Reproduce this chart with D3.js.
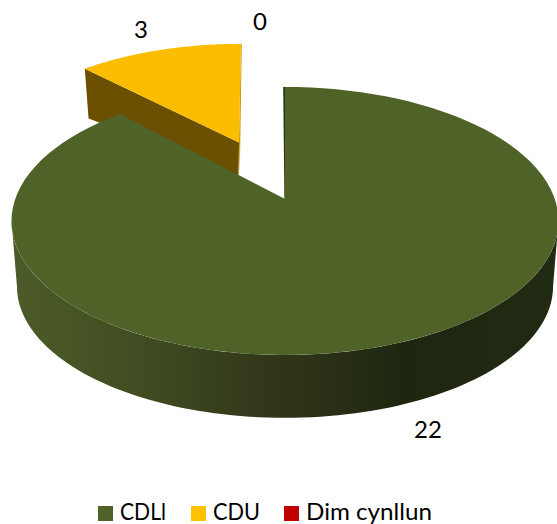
<!DOCTYPE html>
<html><head><meta charset="utf-8">
<script src="https://cdn.jsdelivr.net/npm/d3@7/dist/d3.min.js"></script>
<style>html,body{margin:0;background:#fff}svg{display:block}text{font-family:Lato,"Open Sans",sans-serif;fill:#000}</style>
</head><body><svg id="c" width="557" height="524"></svg>
<script>
const categories = ["CDLl", "CDU", "Dim cynllun"];
const values = [22, 3, 0];
const colors = ["#4f6228", "#fcbc00", "#c00000"];
const legendColors = ["#4f6228", "#ffc000", "#c00000"];

const svg = d3.select("#c");
const TAU = 2 * Math.PI;
const pie = d3.pie().sort(null)(values);

// perspective projection of a unit disc lying in a tilted plane
const proj = (cx, cy, rx, ry, k, shear = 0) => (a, r = 1) => {
  const u = r * Math.sin(a), v = r * Math.cos(a), s = 1 / (1 + k * v);
  return [cx + rx * u * s + shear * ry * v * s, cy - ry * v * s];
};
const mainTop = proj(285, 199, 269.8, 130.4, 0.164);
const mainLow = proj(285, 265, 264.4, 127.8, 0.164);
const sideTop = proj(239, 142.5, 244, 108.5, 0.1, 0.02);
const sideLow = proj(238.5, 175.5, 235, 84, 0.1);
const line = d3.line();
const arcPts = (f, a0, a1) => d3.range(0, 101).map(i => f(a0 + (a1 - a0) * i / 100));

const grad = svg.append("defs").append("linearGradient").attr("id", "wall")
  .attr("gradientUnits", "userSpaceOnUse").attr("x1", 11).attr("x2", 557).attr("y1", 0).attr("y2", 0);
[[0, "#4c5c28"], [0.2, "#434f23"], [0.45, "#32391a"], [0.72, "#1f2610"], [1, "#212a12"]]
  .forEach(([o, c]) => grad.append("stop").attr("offset", o).attr("stop-color", c));

// exploded slice: cut walls, then top face
const y = pie[1];
const yA0 = y.startAngle - TAU, yA1 = y.endAngle - TAU;
svg.append("path").attr("fill", "#6a5000")
  .attr("d", line([sideTop(yA0), sideTop(yA0, 0), sideLow(yA0, 0), sideLow(yA0)]) + "Z");
const yTip = sideTop(yA1), yApex = sideTop(yA1, 0);
svg.append("path").attr("fill", "#c89600")
  .attr("d", line([yTip, [yTip[0] + 0.8, yTip[1]], [yApex[0] + 0.8, sideLow(yA1, 0)[1]], yApex]) + "Z");
svg.append("path").attr("fill", colors[1])
  .attr("d", line([sideTop(yA0, 0), ...arcPts(sideTop, yA0, yA1)]) + "Z");

// main slice: thin cut wall, outer rim, top face
const g = pie[0];
const gTip = mainTop(0), gApex = mainTop(0, 0);
svg.append("path").attr("fill", "#2c3616")
  .attr("d", line([[gTip[0] - 1.8, gTip[1]], gTip, gApex, [gApex[0] - 0.6, gApex[1]]]) + "Z");
const frontA0 = Math.PI / 2 + 0.165, frontA1 = Math.PI * 1.5 - 0.165;
svg.append("path").attr("fill", "url(#wall)")
  .attr("d", line([...arcPts(mainTop, frontA0, frontA1), ...arcPts(mainLow, frontA1, frontA0)]) + "Z");
svg.append("path").attr("fill", colors[0])
  .attr("d", line([mainTop(0, 0), ...arcPts(mainTop, g.startAngle, g.endAngle)]) + "Z");

// value labels
const labelPos = [[428, 438], [141, 38], [260, 30]];
svg.append("g").selectAll("text").data(values).join("text")
  .attr("x", (d, i) => labelPos[i][0]).attr("y", (d, i) => labelPos[i][1])
  .attr("text-anchor", "middle").style("font-size", "24px").text(d => d);

// legend
const legendX = [98, 191, 284];
const legendW = [46, 47, 126];
const lg = svg.append("g").selectAll("g").data(categories).join("g")
  .attr("transform", (d, i) => `translate(${legendX[i]},506)`);
lg.append("rect").attr("width", 15).attr("height", 15).attr("fill", (d, i) => legendColors[i]);
lg.append("text").attr("x", 22).attr("y", 13.5).style("font-size", "23px")
  .attr("textLength", (d, i) => legendW[i]).attr("lengthAdjust", "spacingAndGlyphs").text(d => d);
</script></body></html>
